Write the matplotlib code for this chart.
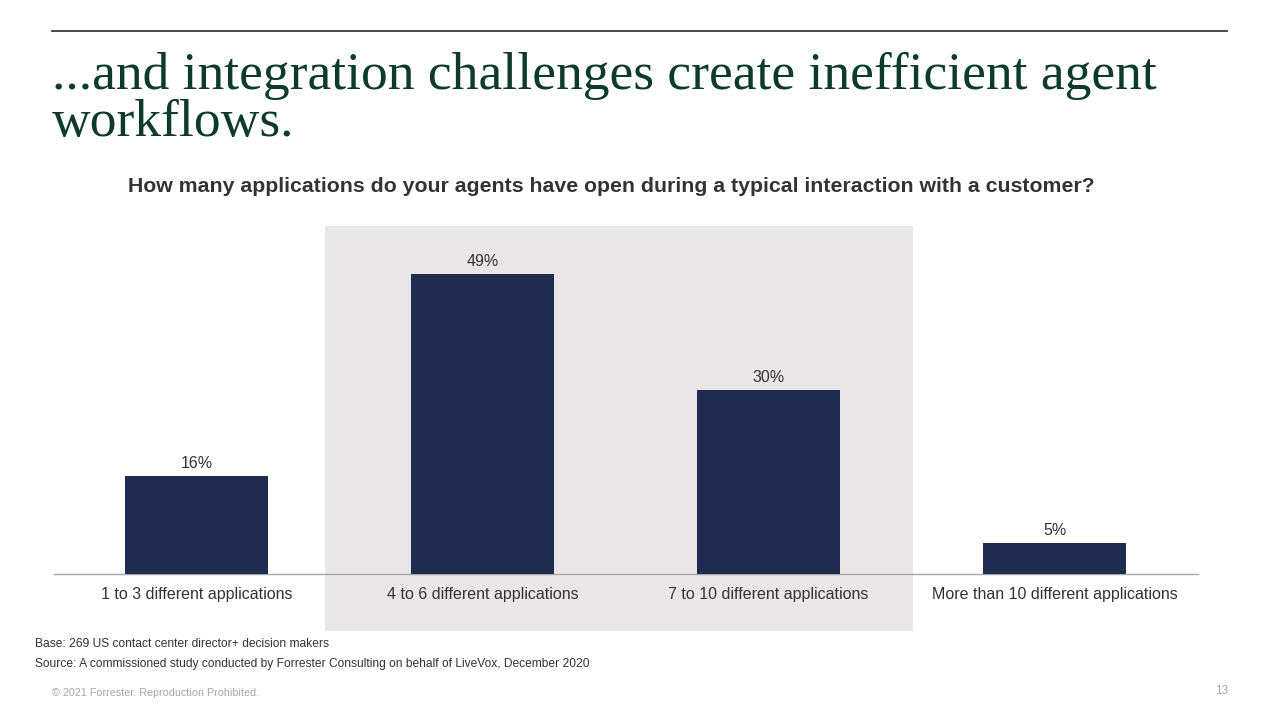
import matplotlib
matplotlib.use("Agg")
import matplotlib.pyplot as plt
from matplotlib.patches import Rectangle
from matplotlib.lines import Line2D

categories = ["1 to 3 different applications", "4 to 6 different applications",
              "7 to 10 different applications", "More than 10 different applications"]
values = [16, 49, 30, 5]
value_labels = ["16%", "49%", "30%", "5%"]

W, H = 1280, 720
fig = plt.figure(figsize=(12.8, 7.2), dpi=100)
fig.patch.set_facecolor("white")

def fx(x):
    return x / W

def fy(y):
    return 1 - y / H

# highlight panel
fig.patches.append(Rectangle((fx(325), fy(631)), fx(913) - fx(325), fy(226) - fy(631),
                             transform=fig.transFigure, facecolor="#E8E6E7",
                             edgecolor="none", zorder=-5))

# top rule
fig.add_artist(Line2D([fx(52), fx(1227)], [fy(31), fy(31)], transform=fig.transFigure,
                      color="#3A3A3A", lw=1.3))

# title
title_kw = dict(fontfamily="Liberation Serif", fontsize=38.5, color="#0C3B2A",
                ha="left", va="baseline")
fig.text(fx(52), fy(89), "...and integration challenges create inefficient agent", **title_kw)
fig.text(fx(52), fy(136), "workflows.", **title_kw)

# subtitle
fig.text(fx(611), fy(187), "How many applications do your agents have open during a typical interaction with a customer?",
         fontfamily="Liberation Sans", fontweight="bold", fontsize=15.3, color="#333333",
         ha="center", va="center")

left, right = 53.5, 1197.5
bottom_px, top_px = 574, 574 - 55 * (300 / 49)
ax = fig.add_axes([fx(left), fy(bottom_px), fx(right) - fx(left), fy(top_px) - fy(bottom_px)])
ax.set_zorder(1)
ax.set_facecolor("none")
x = range(len(categories))
ax.bar(x, values, width=0.5, color="#1F2B50", zorder=3)
ax.set_xlim(-0.5, 3.5)
ax.set_ylim(0, 55)
for xi, v, lab in zip(x, values, value_labels):
    ax.text(xi, v + 0.85, lab, ha="center", va="bottom", fontsize=11.5,
            fontfamily="Liberation Sans", color="#333333")
ax.set_xticks(list(x))
ax.set_xticklabels(categories, fontfamily="Liberation Sans", fontsize=11.5, color="#333333")
ax.tick_params(axis="x", length=0, pad=9)
ax.set_yticks([])
for s in ["top", "left", "right"]:
    ax.spines[s].set_visible(False)
ax.spines["bottom"].set_color("#A6A6A6")
ax.spines["bottom"].set_linewidth(1.0)

# footnotes
fig.text(fx(35), fy(644), "Base: 269 US contact center director+ decision makers",
         fontfamily="Liberation Sans", fontsize=8.66, color="#333333", ha="left", va="center")
fig.text(fx(35), fy(664), "Source: A commissioned study conducted by Forrester Consulting on behalf of LiveVox, December 2020",
         fontfamily="Liberation Sans", fontsize=8.66, color="#333333", ha="left", va="center")
fig.text(fx(52), fy(693), "\u00a9 2021 Forrester. Reproduction Prohibited.",
         fontfamily="Liberation Sans", fontsize=7.75, color="#A6A6A6", ha="left", va="center")
fig.text(fx(1228), fy(691), "13", fontfamily="Liberation Sans", fontsize=8.5,
         color="#A6A6A6", ha="right", va="center")

fig.savefig("out.png", dpi=100)
